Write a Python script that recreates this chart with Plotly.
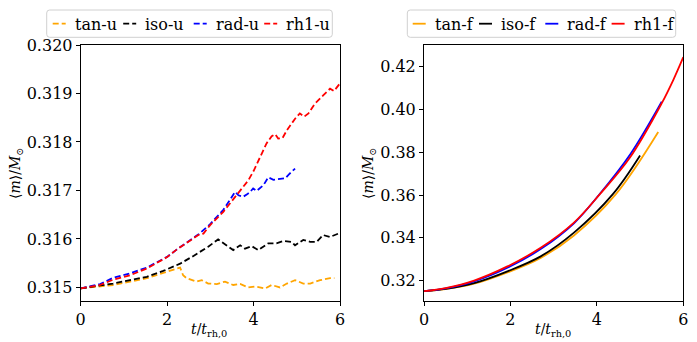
import plotly.graph_objects as go

# ---------------- data: left panel (dashed, "-u") ----------------
tan_u_t = [0, 0.75, 1.14, 1.53, 1.91, 2.14, 2.30, 2.37, 2.45, 2.68, 2.80, 2.95, 3.15, 3.34, 3.53,
           3.69, 3.88, 4.03, 4.27, 4.42, 4.61, 4.77, 4.96, 5.15, 5.31, 5.54, 5.77, 5.87]
tan_u_m = [0.31498, 0.31505, 0.31512, 0.31519, 0.31530, 0.31537, 0.31541, 0.31525, 0.31519, 0.31512,
           0.31515, 0.31508, 0.31507, 0.31512, 0.31505, 0.31507, 0.31500, 0.31502, 0.31498, 0.31505,
           0.31500, 0.31508, 0.31515, 0.31508, 0.31508, 0.31515, 0.31519, 0.31519]

iso_u_t = [0, 0.75, 1.14, 1.53, 1.91, 2.30, 2.61, 2.95, 3.18, 3.34, 3.53, 3.69, 3.80, 3.96, 4.11,
           4.34, 4.53, 4.69, 4.88, 4.96, 5.15, 5.31, 5.46, 5.61, 5.77, 5.96, 6.0]
iso_u_m = [0.31498, 0.31508, 0.31515, 0.31522, 0.31534, 0.31549, 0.31565, 0.31584, 0.31599, 0.31589,
           0.31577, 0.31587, 0.31580, 0.31585, 0.31577, 0.31591, 0.31591, 0.31596, 0.31594, 0.31587,
           0.31598, 0.31594, 0.31594, 0.31608, 0.31604, 0.31611, 0.31612]

rad_u_t = [0, 0.45, 0.75, 1.14, 1.53, 1.83, 2.0, 2.22, 2.45, 2.72, 2.99, 3.15, 3.3, 3.45, 3.57,
           3.65, 3.76, 3.85, 3.92, 3.99, 4.07, 4.23, 4.34, 4.46, 4.6, 4.73, 4.84, 4.96]
rad_u_m = [0.31498, 0.31507, 0.31520, 0.31529, 0.31541, 0.31556, 0.31563, 0.31578, 0.31592, 0.31609,
           0.31630, 0.31645, 0.31660, 0.31680, 0.31697, 0.31690, 0.31687, 0.31692, 0.31697, 0.31704,
           0.31699, 0.31711, 0.31727, 0.31722, 0.31723, 0.31725, 0.31735, 0.31745]

rh1_u_t = [0, 0.45, 0.75, 1.14, 1.53, 1.83, 1.99, 2.22, 2.45, 2.72, 2.84, 2.99, 3.3, 3.5, 3.7,
           3.88, 4.0, 4.15, 4.30, 4.42, 4.50, 4.57, 4.67, 4.77, 4.96, 5.07, 5.17, 5.27, 5.42, 5.61,
           5.77, 5.86, 5.96, 6.0]
rh1_u_m = [0.31498, 0.31505, 0.31516, 0.31525, 0.31539, 0.31555, 0.31562, 0.31578, 0.31591, 0.31608,
           0.31611, 0.31628, 0.31656, 0.31678, 0.31700, 0.31721, 0.31740, 0.31769, 0.31797, 0.31812,
           0.31816, 0.31807, 0.31808, 0.31824, 0.31848, 0.31859, 0.31852, 0.31859, 0.31879, 0.31896,
           0.31910, 0.31905, 0.31917, 0.31921]

# ---------------- data: right panel (solid, "-f") ----------------
tan_f_t = [0, 0.5, 1.16, 1.93, 2.70, 3.47, 4.44, 5.42]
tan_f_m = [0.3150, 0.3160, 0.3185, 0.3238, 0.3306, 0.3411, 0.3604, 0.3895]

iso_f_t = [0, 0.5, 1.16, 1.93, 2.70, 3.47, 4.37, 5.0]
iso_f_m = [0.3150, 0.3161, 0.3188, 0.3243, 0.3313, 0.3424, 0.3604, 0.3785]

rad_f_t = [0, 0.5, 1.16, 1.93, 2.70, 3.47, 4.07, 4.77, 5.50]
rad_f_m = [0.3150, 0.3163, 0.3196, 0.3260, 0.3347, 0.3468, 0.3606, 0.3790, 0.4037]

rh1_f_t = [0, 0.5, 1.16, 1.93, 2.70, 3.47, 4.07, 4.77, 5.50, 5.77, 6.0]
rh1_f_m = [0.3150, 0.3165, 0.3200, 0.3266, 0.3353, 0.3471, 0.3604, 0.3777, 0.4029, 0.4139, 0.4245]

names_u = ["tan-u", "iso-u", "rad-u", "rh1-u"]
names_f = ["tan-f", "iso-f", "rad-f", "rh1-f"]
colors = ["#FFA500", "#000000", "#0000FF", "#FF0000"]

x_ticks = [0, 2, 4, 6]
left_ticks = [0.315, 0.316, 0.317, 0.318, 0.319, 0.320]
right_ticks = [0.32, 0.34, 0.36, 0.38, 0.40, 0.42]

W, H = 697, 342
FONT = "'DejaVu Serif', 'Liberation Serif', serif"
FS = 16
DASH = "6px,3px"

fig = go.Figure()

left_series = [(tan_u_t, tan_u_m), (iso_u_t, iso_u_m), (rad_u_t, rad_u_m), (rh1_u_t, rh1_u_m)]
for (t, m), n, c in zip(left_series, names_u, colors):
    fig.add_trace(go.Scatter(x=t, y=m, mode="lines", name=n, xaxis="x", yaxis="y",
                             line=dict(color=c, width=1.8, dash=DASH), showlegend=False))

right_series = [(tan_f_t, tan_f_m), (iso_f_t, iso_f_m), (rad_f_t, rad_f_m), (rh1_f_t, rh1_f_m)]
for (t, m), n, c in zip(right_series, names_f, colors):
    fig.add_trace(go.Scatter(x=t, y=m, mode="lines", name=n, xaxis="x2", yaxis="y2",
                             line=dict(color=c, width=1.8, shape="spline"), showlegend=False))


def px_x(p):
    return p / W


def px_y(p):
    return 1 - p / H


ax_common = dict(showline=True, linecolor="black", linewidth=1, mirror=True,
                 ticks="outside", ticklen=4, tickcolor="black", tickwidth=1,
                 showgrid=False, zeroline=False,
                 tickfont=dict(family=FONT, size=FS, color="black"))

fig.update_layout(
    width=W, height=H,
    margin=dict(l=0, r=0, t=0, b=0, autoexpand=False),
    paper_bgcolor="white", plot_bgcolor="white",
    font=dict(family=FONT, color="black"),
    showlegend=False,
    xaxis=dict(domain=[px_x(80.7), px_x(340)], range=[0, 6], tickvals=x_ticks,
               anchor="y", **ax_common),
    yaxis=dict(domain=[px_y(301), px_y(45)], range=[0.31472, 0.3200], tickvals=left_ticks,
               tickformat=".3f", anchor="x", **ax_common),
    xaxis2=dict(domain=[px_x(424), px_x(683.3)], range=[0, 6], tickvals=x_ticks,
                anchor="y2", **ax_common),
    yaxis2=dict(domain=[px_y(301), px_y(45)], range=[0.31042, 0.4302], tickvals=right_ticks,
                tickformat=".2f", anchor="x2", **ax_common),
)


# ---------- legends drawn as boxes above each panel ----------
def rounded_box(x0, x1, y0, y1, r=3):
    X = lambda p: f"{px_x(p):.5f}"
    Y = lambda p: f"{px_y(p):.5f}"
    return (f"M {X(x0 + r)},{Y(y0)} L {X(x1 - r)},{Y(y0)} Q {X(x1)},{Y(y0)} {X(x1)},{Y(y0 + r)} "
            f"L {X(x1)},{Y(y1 - r)} Q {X(x1)},{Y(y1)} {X(x1 - r)},{Y(y1)} "
            f"L {X(x0 + r)},{Y(y1)} Q {X(x0)},{Y(y1)} {X(x0)},{Y(y1 - r)} "
            f"L {X(x0)},{Y(y0 + r)} Q {X(x0)},{Y(y0)} {X(x0 + r)},{Y(y0)} Z")


legend_specs = [
    dict(box=(46.7, 332.3), text0=72.7, step=70.5, names=names_u, dash=DASH),
    dict(box=(407.3, 675.7), text0=432.7, step=66.3, names=names_f, dash="solid"),
]
LEG_TOP, LEG_BOT, LEG_MID = 10, 37.3, 23.7
for spec in legend_specs:
    fig.add_shape(type="path", xref="paper", yref="paper",
                  path=rounded_box(spec["box"][0], spec["box"][1], LEG_TOP, LEG_BOT),
                  line=dict(color="#d0d0d0", width=1), fillcolor="white", layer="above")
    for i, (n, c) in enumerate(zip(spec["names"], colors)):
        tx = spec["text0"] + i * spec["step"]
        fig.add_shape(type="line", xref="paper", yref="paper",
                      x0=px_x(tx - 20), x1=px_x(tx - 7), y0=px_y(LEG_MID), y1=px_y(LEG_MID),
                      line=dict(color=c, width=1.8, dash=spec["dash"]), layer="above")
        fig.add_annotation(xref="paper", yref="paper", x=px_x(tx), y=px_y(LEG_MID + 0.5),
                           text=n, showarrow=False, xanchor="left", yanchor="middle",
                           font=dict(family=FONT, size=FS, color="black"))

ytitle = "⟨<i>m</i>⟩/<i>M</i><sub>⊙</sub>"
xtitle = "<i>t</i>/<i>t</i><sub>rh,0</sub>"
annots = [
    dict(x=px_x(16), y=px_y(173), text=ytitle, textangle=-90),
    dict(x=px_x(369), y=px_y(173), text=ytitle, textangle=-90),
    dict(x=px_x(209), y=px_y(330), text=xtitle),
    dict(x=px_x(553), y=px_y(330), text=xtitle),
]
for a in annots:
    fig.add_annotation(xref="paper", yref="paper", showarrow=False,
                       xanchor="center", yanchor="middle",
                       font=dict(family=FONT, size=14, color="black"), **a)

fig.write_html("out.html")
